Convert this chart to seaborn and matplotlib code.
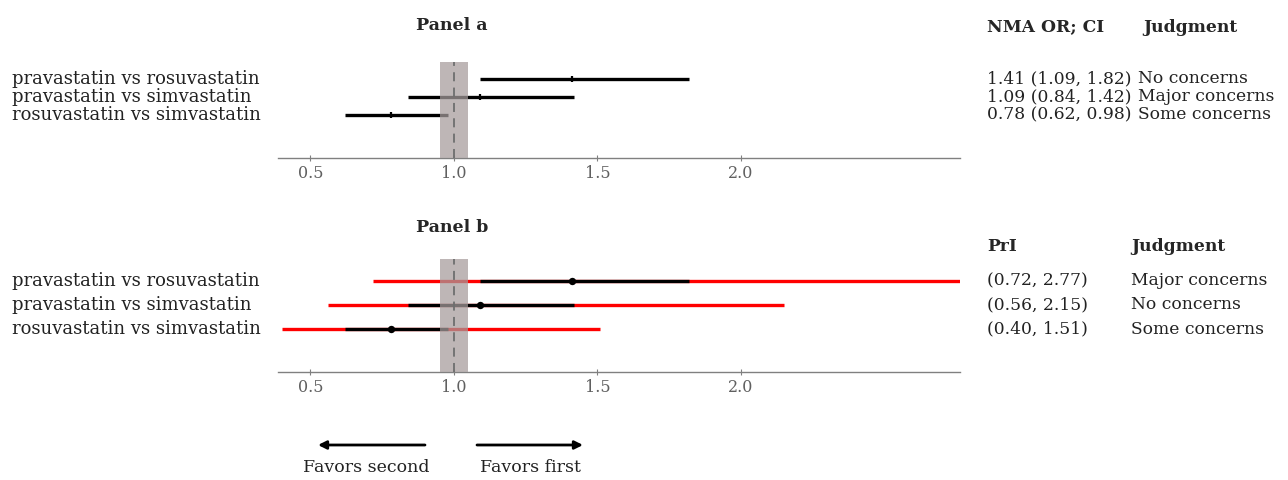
import matplotlib
matplotlib.use("Agg")
import matplotlib.pyplot as plt
import matplotlib.transforms as mtransforms
import pandas as pd
import seaborn as sns

comparisons = ["pravastatin vs rosuvastatin", "pravastatin vs simvastatin", "rosuvastatin vs simvastatin"]
or_est = [1.41, 1.09, 0.78]
ci_low = [1.09, 0.84, 0.62]
ci_high = [1.82, 1.42, 0.98]
pri_low = [0.72, 0.56, 0.40]
pri_high = [2.77, 2.15, 1.51]
judgment_a = ["No concerns", "Major concerns", "Some concerns"]
judgment_b = ["Major concerns", "No concerns", "Some concerns"]
tick_values = [0.5, 1.0, 1.5, 2.0]
tick_labels = ["0.5", "1.0", "1.5", "2.0"]

df = pd.DataFrame({
    "comparison": comparisons,
    "row": range(len(comparisons)),
    "est": or_est,
    "ci_low": ci_low,
    "ci_high": ci_high,
    "pri_low": pri_low,
    "pri_high": pri_high,
})

sns.set_theme(style="white")
plt.rcParams["font.family"] = ["DejaVu Serif"]

W, H = 1288, 480
fig = plt.figure(figsize=(W / 100, H / 100), dpi=100)


def px_axes(left, right, top, bottom):
    return fig.add_axes([left / W, 1 - bottom / H, (right - left) / W, (bottom - top) / H])


def style(ax, ylim):
    ax.set_xlim(0.386, 2.763)
    ax.set_ylim(*ylim)
    for s in ["top", "left", "right"]:
        ax.spines[s].set_visible(False)
    ax.spines["bottom"].set_color("#808080")
    ax.spines["bottom"].set_linewidth(1)
    ax.set_xticks(tick_values)
    ax.set_xticklabels(tick_labels)
    ax.tick_params(axis="x", bottom=True, direction="inout", length=4, width=0.8,
                   color="#808080", labelsize=11.5, labelcolor="#606060", pad=3)
    ax.set_yticks([])
    ax.set_xlabel("")
    ax.set_ylabel("")
    # null region band + reference line
    ax.axvspan(0.95, 1.05, color=(0.65, 0.61, 0.61), alpha=0.73, lw=0, zorder=4)
    ax.axvline(1.0, color="#6e6e6e", ls=(0, (5, 3.5)), lw=1.3, zorder=5)


def row_text(ax):
    trans = mtransforms.blended_transform_factory(fig.transFigure, ax.transData)
    for _, r in df.iterrows():
        ax.text(12 / W, r["row"], r["comparison"], transform=trans, ha="left", va="center",
                fontsize=13, color="#222222", clip_on=False)
    return trans


# Panel a
ax_a = px_axes(277.6, 960, 62.3, 158.3)
ax_a.hlines(df["row"], df["ci_low"], df["ci_high"], color="black", lw=2.4, zorder=2)
sns.scatterplot(data=df, x="est", y="row", marker="|", s=18, color="black",
                linewidth=1.6, ax=ax_a, zorder=3)
style(ax_a, (4.42, -0.91))
trans_a = row_text(ax_a)
for i, r in df.iterrows():
    ax_a.text(987 / W, r["row"], f"{r['est']:.2f} ({r['ci_low']:.2f}, {r['ci_high']:.2f})",
              transform=trans_a, ha="left", va="center", fontsize=12.3, color="#222222")
    ax_a.text(1138 / W, r["row"], judgment_a[i], transform=trans_a, ha="left", va="center",
              fontsize=12.3, color="#222222")

# Panel b
ax_b = px_axes(277.6, 960, 259.3, 372.3)
ax_b.hlines(df["row"], df["pri_low"], df["pri_high"], color="#ff0000", lw=2.4, zorder=1)
ax_b.hlines(df["row"], df["ci_low"], df["ci_high"], color="black", lw=2.4, zorder=2)
sns.scatterplot(data=df, x="est", y="row", marker="o", s=28, color="black",
                edgecolor="black", linewidth=0, ax=ax_b, zorder=3)
style(ax_b, (3.80, -0.90))
trans_b = row_text(ax_b)
for i, r in df.iterrows():
    ax_b.text(987 / W, r["row"], f"({r['pri_low']:.2f}, {r['pri_high']:.2f})",
              transform=trans_b, ha="left", va="center", fontsize=12.3, color="#222222")
    ax_b.text(1131 / W, r["row"], judgment_b[i], transform=trans_b, ha="left", va="center",
              fontsize=12.3, color="#222222")

# titles and headers
fig.text(452 / W, 1 - 25 / H, "Panel a", ha="center", va="center", fontsize=12.5, weight="bold")
fig.text(452 / W, 1 - 228 / H, "Panel b", ha="center", va="center", fontsize=12.5, weight="bold")
fig.text(987 / W, 1 - 27 / H, "NMA OR; CI", ha="left", va="center", fontsize=12.3, weight="bold")
fig.text(1143 / W, 1 - 27 / H, "Judgment", ha="left", va="center", fontsize=12.3, weight="bold")
fig.text(987 / W, 1 - 247 / H, "PrI", ha="left", va="center", fontsize=12.3, weight="bold")
fig.text(1131 / W, 1 - 247 / H, "Judgment", ha="left", va="center", fontsize=12.3, weight="bold")

# direction arrows
arrow_y = 1 - 445 / H
fig.add_artist(matplotlib.patches.FancyArrowPatch(
    (425 / W, arrow_y), (318 / W, arrow_y), transform=fig.transFigure,
    arrowstyle="-|>", mutation_scale=12, color="black", lw=2, shrinkA=0, shrinkB=0))
fig.add_artist(matplotlib.patches.FancyArrowPatch(
    (477 / W, arrow_y), (583 / W, arrow_y), transform=fig.transFigure,
    arrowstyle="-|>", mutation_scale=12, color="black", lw=2, shrinkA=0, shrinkB=0))
fig.text(366 / W, 1 - 468 / H, "Favors second", ha="center", va="center", fontsize=12.5, color="#222222")
fig.text(530 / W, 1 - 468 / H, "Favors first", ha="center", va="center", fontsize=12.5, color="#222222")

fig.savefig("out.png", dpi=100)
